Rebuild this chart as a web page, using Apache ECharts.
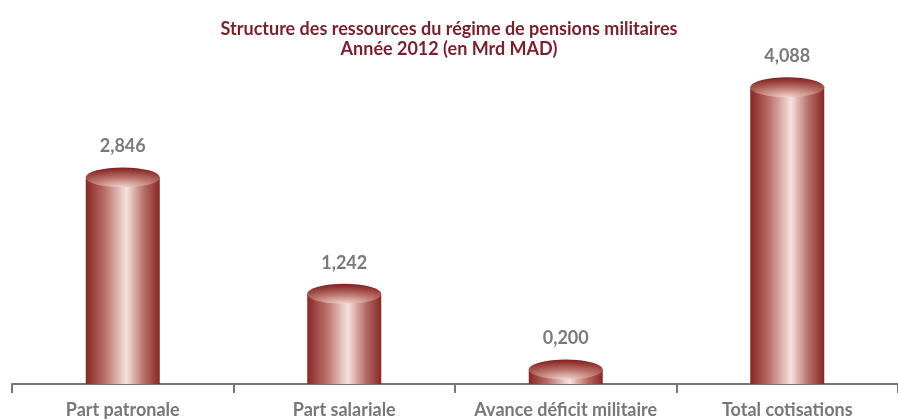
<!DOCTYPE html>
<html>
<head>
<meta charset="utf-8">
<script src="https://cdn.jsdelivr.net/npm/echarts@6/dist/echarts.min.js"></script>
<style>
  html, body { margin: 0; padding: 0; background: #fff; }
  #chart { width: 898px; height: 419px; }
</style>
</head>
<body>
<div id="chart"></div>
<script>
// données (Mrd MAD)
const categories = ['Part patronale', 'Part salariale', 'Avance déficit militaire', 'Total cotisations'];
const values = [2.846, 1.242, 0.200, 4.088];

const chart = echarts.init(document.getElementById('chart'));

// dégradé du fût : bords rouge foncé, reflet clair au centre
const sideColor = new echarts.graphic.LinearGradient(0, 0, 1, 0, [
  { offset: 0, color: '#8a2626' },
  { offset: 0.25, color: '#b66e66' },
  { offset: 0.55, color: '#f6e2de' },
  { offset: 0.8, color: '#b36a62' },
  { offset: 1, color: '#8a2626' }
]);
// dessus elliptique
const topColor = new echarts.graphic.RadialGradient(0.5, 1, 0.95, [
  { offset: 0, color: '#f0d6d0' },
  { offset: 0.55, color: '#b66c64' },
  { offset: 1, color: '#862424' }
]);

const fmt = (v) => v.toFixed(3).replace('.', ',');

const option = {
  animation: false,
  title: {
    text: 'Structure des ressources du régime de pensions militaires\nAnnée 2012 (en Mrd MAD)',
    left: 'center',
    top: 14,
    textStyle: {
      fontFamily: 'Lato',
      fontWeight: 'bold',
      fontSize: 18,
      lineHeight: 20,
      color: '#7c1f2c'
    }
  },
  grid: { left: 12, right: -6, top: 21, bottom: 33 },
  xAxis: {
    type: 'category',
    data: categories,
    axisLine: { show: true, lineStyle: { color: '#767676', width: 2 } },
    axisTick: {
      show: true,
      interval: 0,
      alignWithLabel: false,
      length: 9,
      lineStyle: { color: '#767676', width: 2 }
    },
    axisLabel: {
      interval: 0,
      margin: 17,
      fontFamily: 'Lato',
      fontWeight: 'bold',
      fontSize: 18,
      color: '#777'
    }
  },
  yAxis: {
    type: 'value',
    min: 0,
    max: 5,
    show: false
  },
  series: [
    {
      type: 'bar',
      data: values,
      barWidth: 74,
      barGap: '-100%',
      itemStyle: { color: sideColor },
      label: {
        show: true,
        position: 'top',
        distance: 22,
        formatter: (p) => fmt(p.value),
        fontFamily: 'Lato',
        fontWeight: 'bold',
        fontSize: 18,
        color: '#7a7a7a'
      },
      z: 2
    },
    {
      type: 'pictorialBar',
      data: values,
      barWidth: 74,
      barGap: '-100%',
      symbol: 'circle',
      symbolSize: [74, 20],
      symbolPosition: 'end',
      symbolOffset: [0, '-50%'],
      itemStyle: { color: topColor },
      z: 3
    }
  ]
};

chart.setOption(option);
</script>
</body>
</html>
